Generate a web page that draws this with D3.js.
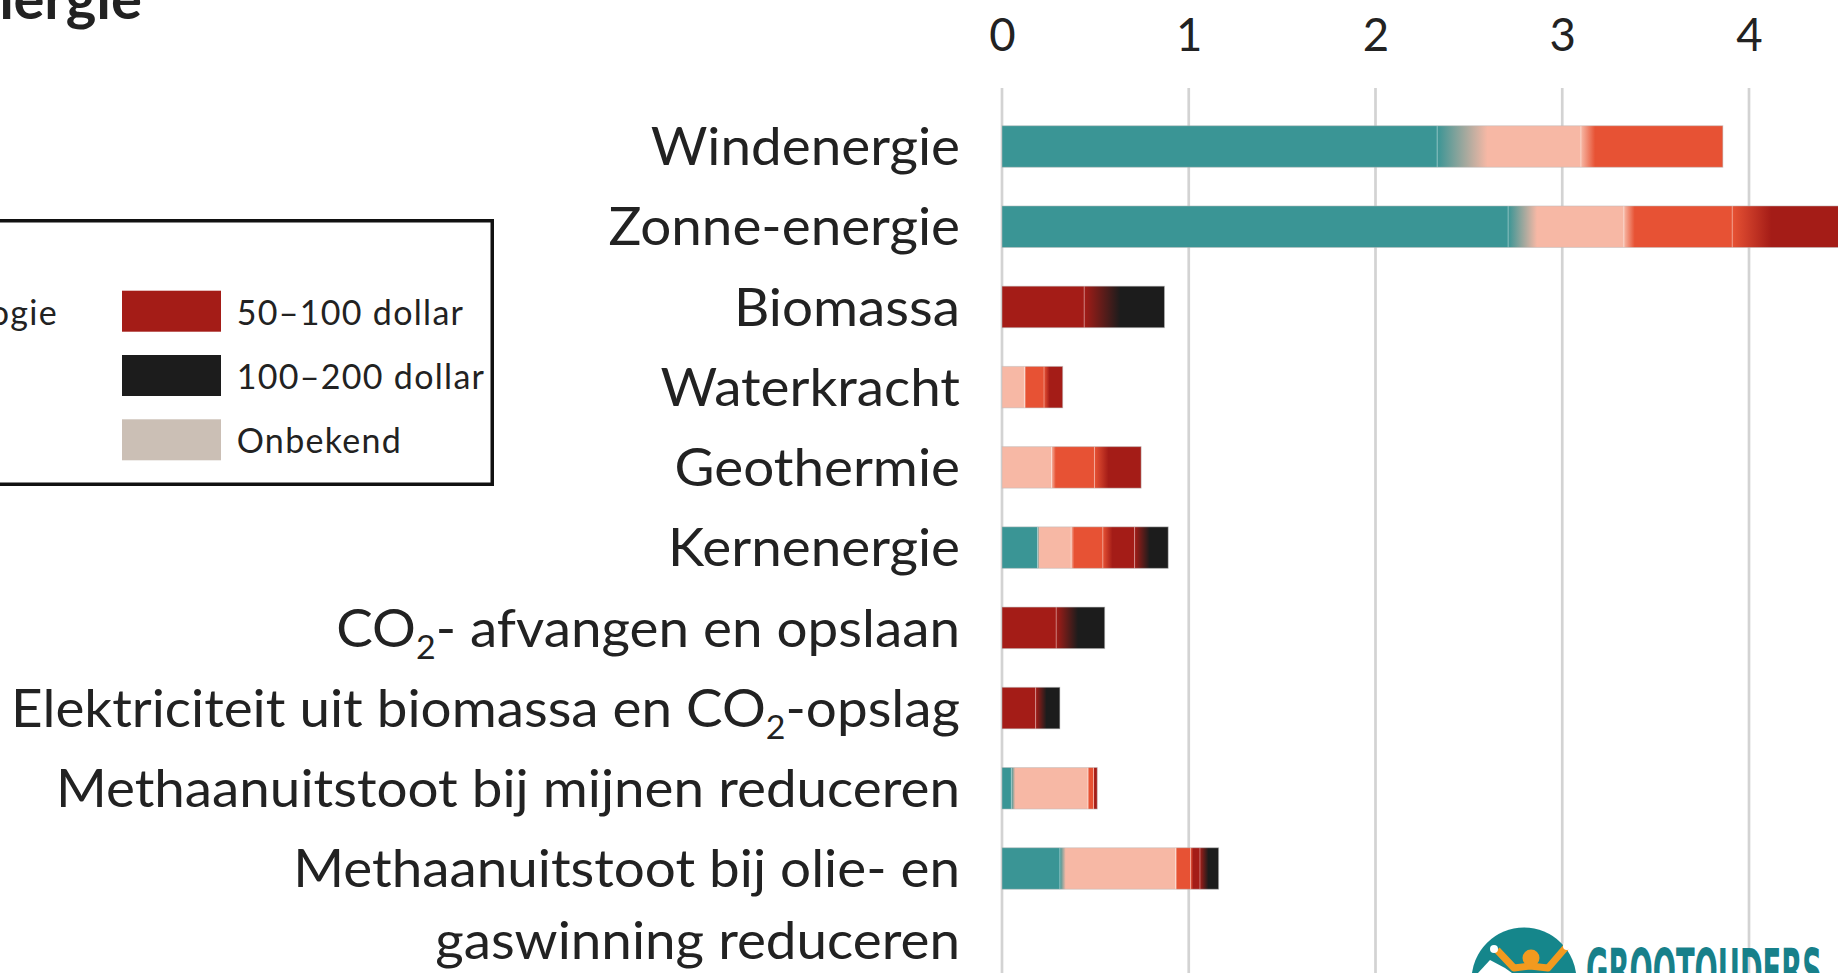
<!DOCTYPE html>
<html><head><meta charset="utf-8">
<script src="https://cdn.jsdelivr.net/npm/d3@7/dist/d3.min.js"></script>
<style>
body{margin:0;background:#fff;overflow:hidden}
svg{display:block;font-family:Lato,"Open Sans",sans-serif}
</style></head>
<body><svg id="chart" width="1838" height="973"></svg>
<script>
// ---------- data ----------
const title = "Energie";
const categories = ["Windenergie","Zonne-energie","Biomassa","Waterkracht","Geothermie","Kernenergie",
  "CO_2- afvangen en opslaan","Elektriciteit uit biomassa en CO_2-opslag",
  "Methaanuitstoot bij mijnen reduceren","Methaanuitstoot bij olie- en|gaswinning reduceren"];
const costBins = ["Goedkoper dan referentietechnologie","0–20 dollar","20–50 dollar","50–100 dollar","100–200 dollar","Onbekend"];
// potential per cost bin (Gt CO2-eq per jaar)
const lowerThanRef = [2.33, 2.71, 0,    0,     0,     0.19, 0,    0,    0.05, 0.31];
const cost0to20    = [0.77, 0.62, 0,    0.12,  0.265, 0.18, 0,    0,    0.41, 0.62];
const cost20to50   = [0.76, 0.58, 0,    0.105, 0.23,  0.17, 0,    0,    0.03, 0.08];
const cost50to100  = [0,    0.70, 0.44, 0.10,  0.25,  0.17, 0.29, 0.18, 0.02, 0.05];
const cost100to200 = [0,    0,    0.43, 0,     0,     0.18, 0.26, 0.13, 0,    0.10];
const costUnknown  = [0,    0,    0,    0,     0,     0,    0,    0,    0,    0];
const xTicks = [0, 1, 2, 3, 4];

// ---------- styles ----------
const binColors = ["#3a9595","#f7b8a5","#e75234","#a41c17","#1c1c1c","#cbbfb5"];
const blendFrac = [0, 0.05, 0.1, 0.3, 0.45, 0];      // soft transition into each bin
const softTealToPink = {0: 0.35, 1: 0.25};            // wider blends seen on the two long bars
const textColor = "#222";

const svg = d3.select("#chart");
const defs = svg.append("defs");

const x = d3.scaleLinear().domain([0, 4]).range([1002, 1749]);
const y = d3.scalePoint().domain(categories).range([146.5, 868.5]);
const barH = 41.5;

// title (cropped at left edge)
svg.append("text").attr("x", 142).attr("y", 19).attr("text-anchor", "end")
  .attr("font-size", 58).attr("font-weight", 700).attr("fill", textColor).text(title);

// gridlines
svg.append("g").selectAll("line").data(xTicks).join("line")
  .attr("x1", d => x(d)).attr("x2", d => x(d)).attr("y1", 88).attr("y2", 973)
  .attr("stroke", "#d3d3d3").attr("stroke-width", 2.7);

// top axis labels
const axis = d3.axisTop(x).tickValues(xTicks).tickSize(0).tickPadding(0).tickFormat(d3.format("d"));
const ag = svg.append("g").attr("transform", "translate(0,50.5)").call(axis);
ag.select(".domain").remove();
ag.selectAll("text").attr("font-size", 45.5).attr("font-family", "Lato").attr("fill", textColor)
  .attr("dy", 0).attr("y", 0);

// stacked bars
const seriesArr = [lowerThanRef, cost0to20, cost20to50, cost50to100, cost100to200, costUnknown];
const rows = categories.map((c, i) => {
  let acc = 0;
  const segs = [];
  seriesArr.forEach((s, k) => {
    const v = s[i];
    if (v > 0) { segs.push({k, x0: acc, x1: acc + v}); acc += v; }
  });
  segs.forEach((s, j) => { s.prev = j > 0 ? segs[j-1].k : null; });
  return {c, i, segs};
});

const barG = svg.append("g");
rows.forEach(r => {
  const g = barG.append("g");
  const yc = y(r.c);
  r.segs.forEach((s, j) => {
    let fill = binColors[s.k];
    if (s.prev !== null) {
      const id = `g${r.i}_${j}`;
      const w = x(s.x1) - x(s.x0);
      let f = blendFrac[s.k];
      if (s.k === 1 && s.prev === 0 && softTealToPink[r.i] !== undefined) f = softTealToPink[r.i];
      const lg = defs.append("linearGradient").attr("id", id).attr("gradientUnits", "userSpaceOnUse")
        .attr("x1", x(s.x0)).attr("x2", x(s.x0) + Math.max(1, w * f)).attr("y1", 0).attr("y2", 0);
      lg.append("stop").attr("offset", 0).attr("stop-color", binColors[s.prev]);
      lg.append("stop").attr("offset", 1).attr("stop-color", binColors[s.k]);
      fill = `url(#${id})`;
    }
    g.append("rect").attr("x", x(s.x0)).attr("width", x(s.x1) - x(s.x0))
      .attr("y", yc - barH/2).attr("height", barH).attr("fill", fill);
    if (j > 0) {
      g.append("line").attr("x1", x(s.x0)).attr("x2", x(s.x0)).attr("y1", yc - barH/2).attr("y2", yc + barH/2)
        .attr("stroke", "#fff").attr("stroke-opacity", 0.35).attr("stroke-width", 1);
    }
  });
  const tot = r.segs.length ? r.segs[r.segs.length-1].x1 : 0;
  g.append("rect").attr("x", x(0)).attr("width", x(tot) - x(0)).attr("y", yc - barH/2).attr("height", barH)
    .attr("fill", "none").attr("stroke", "#bbb").attr("stroke-opacity", 0.5).attr("stroke-width", 1);
});

// category labels
const labelFs = 52;
function addRich(textSel, str) {
  const parts = str.split("_2");
  parts.forEach((p, idx) => {
    if (idx > 0) {
      textSel.append("tspan").attr("font-size", labelFs * 0.62).attr("dy", 12).text("2");
      textSel.append("tspan").attr("dy", -12).text(p);
    } else textSel.append("tspan").text(p);
  });
}
const labG = svg.append("g");
const labelNodes = [];
categories.forEach(c => {
  const lines = c.split("|");
  const yc = y(c);
  lines.forEach((ln, li) => {
    const gg = labG.append("g").attr("data-y", yc + 0.36 * labelFs + li * 72);
    const t = gg.append("text").attr("x", 0).attr("y", 0).attr("text-anchor", "end")
      .attr("font-size", labelFs).attr("fill", textColor);
    addRich(t, ln);
    labelNodes.push({gg, t, ln});
  });
});
// horizontal compression calibrated on the longest label
const ref = labelNodes.find(n => n.ln.startsWith("Elektriciteit"));
const sx = 949 / ref.t.node().getComputedTextLength();
labelNodes.forEach(n => n.gg.attr("transform", `translate(960,${n.gg.attr("data-y")}) scale(${sx},1)`));

// legend
const lg = svg.append("g");
lg.append("rect").attr("x", -300).attr("y", 220.75).attr("width", 792.25).attr("height", 263.5)
  .attr("fill", "#fff").attr("stroke", "#111").attr("stroke-width", 3.5);
const legFs = 34;
const legLS = 1.3;
const colItems = [[0,1,2],[3,4,5]];
// left column (mostly beyond left edge)
const tmp = lg.append("text").attr("font-size", legFs).attr("letter-spacing", legLS).text(costBins[0]);
const leftW = tmp.node().getComputedTextLength(); tmp.remove();
const leftTextX = 58 - leftW;
colItems.forEach((col, ci) => {
  col.forEach((k, ri) => {
    const sy = 290.7 + ri * 64.3;
    const swX = ci === 0 ? leftTextX - 115 : 122;
    const tX = ci === 0 ? leftTextX : 236.7;
    lg.append("rect").attr("x", swX).attr("y", sy).attr("width", 99).attr("height", 41).attr("fill", binColors[k]);
    lg.append("text").attr("x", tX).attr("y", sy + 34).attr("font-size", legFs).attr("letter-spacing", legLS)
      .attr("fill", textColor).text(costBins[k]);
  });
});

// watermark logo
const logo = svg.append("g");
logo.append("circle").attr("cx", 1524).attr("cy", 980).attr("r", 52.5).attr("fill", "#15868b");
logo.append("path").attr("d", "M1497,950 L1514,968 L1530,966 L1548,968 L1567,946")
  .attr("fill", "none").attr("stroke", "#f39a1f").attr("stroke-width", 7).attr("stroke-linejoin", "round");
logo.append("circle").attr("cx", 1531).attr("cy", 958).attr("r", 8.5).attr("fill", "#f39a1f");
logo.append("path").attr("d", "M1478,973 L1490,960 L1505,968 L1512,973 Z").attr("fill", "#fff");
logo.append("circle").attr("cx", 1494).attr("cy", 949).attr("r", 4).attr("fill", "#fff");
logo.append("circle").attr("cx", 1567).attr("cy", 946).attr("r", 4).attr("fill", "#fff");
logo.append("text").attr("x", 1586).attr("y", 992).attr("font-size", 60).attr("font-weight", 700)
  .attr("font-family", "'Liberation Sans Narrow','DejaVu Sans Condensed',sans-serif")
  .attr("fill", "#17808a").attr("textLength", 236).attr("lengthAdjust", "spacingAndGlyphs").text("GROOTOUDERS");
</script></body></html>
